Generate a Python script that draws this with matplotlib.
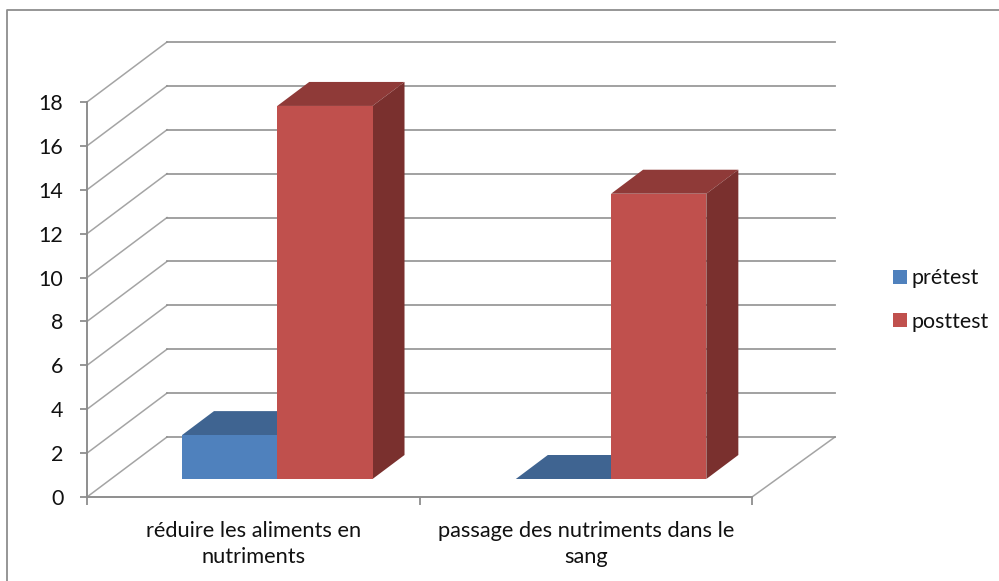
import matplotlib
matplotlib.use("Agg")
import matplotlib.pyplot as plt
from matplotlib.lines import Line2D
from matplotlib.patches import Patch, Polygon

categories = ["réduire les aliments en\nnutriments", "passage des nutriments dans le\nsang"]
series_names = ["prétest", "posttest"]
pretest = [2, 0]
posttest = [17, 13]
y_ticks = list(range(0, 19, 2))

W, H = 999, 581
plt.rcParams["font.family"] = ["Lato", "DejaVu Sans"]
FS = 15.4
GRID = "#8e8e8e"
TXT = "#111111"

fig = plt.figure(figsize=(W / 100, H / 100), dpi=100, facecolor="white")
L, R, B, T = 87, 752, 497, 102
ax = fig.add_axes([L / W, 1 - B / H, (R - L) / W, (B - T) / H])
ax.set_xlim(0, 2)
ax.set_ylim(0, 18)
ax.patch.set_visible(False)

DX = 80 / ((R - L) / 2)          # depth shift, category units
DY = 60 / ((B - T) / 18)         # depth shift, value units
BACK_END = 2.009


def proj(x, v, d):
    return (x + d * DX, v + d * DY)


# walls and floor
for v in y_ticks:
    ax.plot(*zip(proj(0, v, 0), proj(0, v, 1)), color=GRID, lw=1.1, alpha=0.8,
            clip_on=False, zorder=1)
    ax.plot(*zip(proj(0, v, 1), proj(BACK_END, v, 1)), color=GRID, lw=1.3, alpha=0.9,
            clip_on=False, zorder=1)
ax.plot(*zip(proj(2, 0, 0), proj(BACK_END, 0, 1)), color=GRID, lw=1.1, clip_on=False, zorder=1, alpha=0.8)

# bars
GAP, BW, STEP = 0.2135, 0.2865, 1.004
D0, D1 = 0.30, 0.70
STYLES = [("#4f81bd", "#3f6491", "#3b5f8a"), ("#c0504d", "#8f3a38", "#7a302e")]


def bar(x0, x1, v, cols, z):
    front, top, side = cols
    if v > 0:
        ax.add_patch(Polygon([proj(x0, 0, D0), proj(x1, 0, D0), proj(x1, v, D0), proj(x0, v, D0)],
                             fc=front, ec="none", clip_on=False, zorder=z + 0.2))
        ax.add_patch(Polygon([proj(x1, 0, D0), proj(x1, 0, D1), proj(x1, v, D1), proj(x1, v, D0)],
                             fc=side, ec="none", clip_on=False, zorder=z + 0.1))
    ax.add_patch(Polygon([proj(x0, v, D0), proj(x1, v, D0), proj(x1, v, D1), proj(x0, v, D1)],
                         fc=top, ec="none", clip_on=False, zorder=z))


for i in range(len(categories)):
    x = i * STEP + GAP
    bar(x, x + BW, pretest[i], STYLES[0], 2)
    bar(x + BW, x + 2 * BW, posttest[i], STYLES[1], 3)

# axes
for s in ("top", "right"):
    ax.spines[s].set_visible(False)
for s in ("left", "bottom"):
    ax.spines[s].set_color(GRID)
    ax.spines[s].set_linewidth(1.4)
    ax.spines[s].set_zorder(1.5)
ax.set_yticks(y_ticks)
ax.tick_params(axis="y", length=5, width=1.3, color=GRID, labelsize=FS, labelcolor=TXT, pad=12)
ax.set_xticks([0, 1, 2])
ax.set_xticklabels([])
ax.tick_params(axis="x", which="major", length=6, width=1.3, color=GRID)
ax.set_xticks([0.5, 1.5], minor=True)
ax.set_xticklabels(categories, minor=True, fontsize=15.7, color=TXT, linespacing=1.38)
ax.tick_params(axis="x", which="minor", length=0, pad=17)

# legend
handles = [Patch(fc=STYLES[0][0], ec="none"), Patch(fc=STYLES[1][0], ec="none")]
fig.legend(handles, series_names, loc="upper left", bbox_to_anchor=(889 / W, 1 - 264 / H),
           frameon=False, fontsize=FS, labelcolor=TXT, handlelength=0.66, handleheight=0.66,
           handletextpad=0.2, labelspacing=1.09, borderpad=0.2, borderaxespad=0)

# outer frame (top and left edges visible)
fig.add_artist(Line2D([7 / W, 7 / W, 1], [0, 1 - 9.5 / H, 1 - 9.5 / H], color=GRID, lw=1.3,
                      transform=fig.transFigure))

fig.savefig("out.png", dpi=100)
